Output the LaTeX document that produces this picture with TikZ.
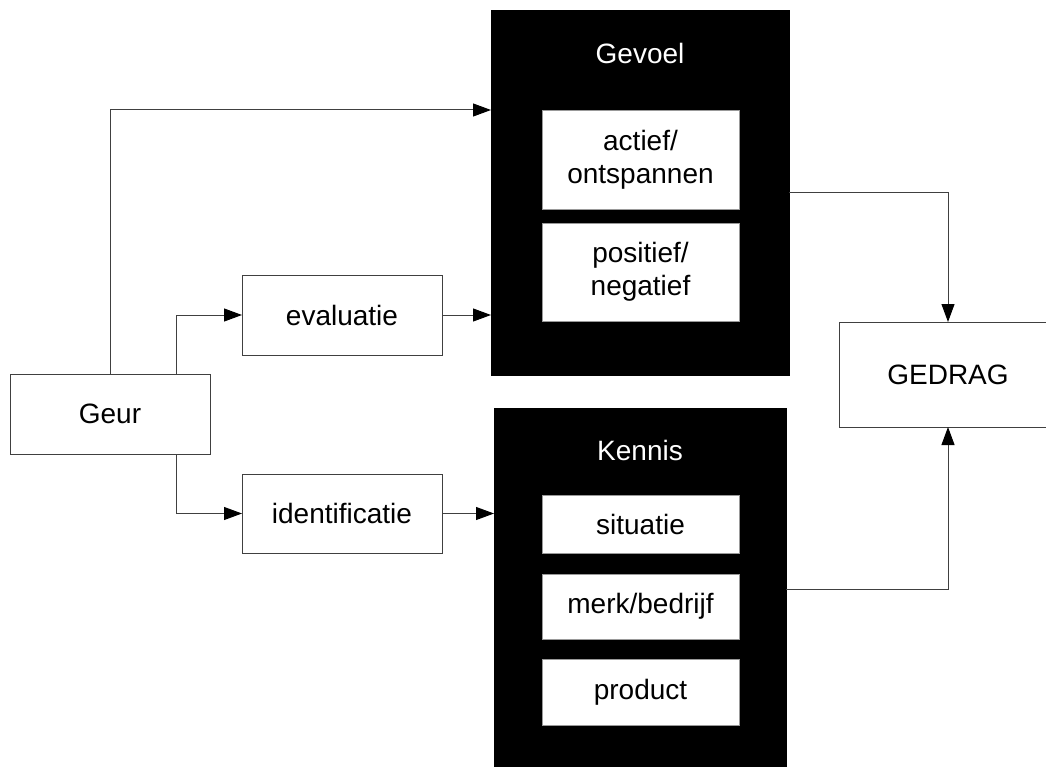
\documentclass[tikz,border=0pt]{standalone}
\usepackage{fontspec}
\setmainfont{Liberation Sans}
\usetikzlibrary{arrows.meta}
\begin{document}
\begin{tikzpicture}[x=1pt,y=-1pt,
  lbl/.style={font=\fontsize{28}{33}\selectfont, align=center},
  box/.style={lbl, draw=black!75, line width=1pt, fill=white, inner sep=0pt, outer sep=0pt},
  blackbox/.style={fill=black, draw=black, inner sep=0pt, outer sep=0pt},
  innerbox/.style={lbl, fill=white, draw=black!40, line width=0.8pt, inner sep=0pt, outer sep=0pt, minimum width=197pt},
  whitetext/.style={lbl, text=white},
  arr/.style={draw=black!75, line width=1pt, -{Triangle[length=18pt,width=13pt,color=black]}}
]
\useasboundingbox (0,0) rectangle (1046,767);
\fill[white] (0,0) rectangle (1046,767);

% black containers
\node[blackbox, minimum width=298pt, minimum height=365pt] (gevoel) at (640,192.5) {};
\node[blackbox, minimum width=292pt, minimum height=362pt] (kennis) at (640,589) {};

\node[whitetext] (gevoellbl) at (640,53) {Gevoel};
\node[whitetext] (kennislbl) at (640,450) {Kennis};

\node[innerbox, minimum height=99pt] (act) at (640.5,159.5) {actief/\\ontspannen};
\node[innerbox, minimum height=98pt] (pos) at (640.5,272) {positief/\\negatief};

\node[innerbox, minimum height=58pt] (sit) at (640.5,524) {situatie};
\node[innerbox, minimum height=65pt] (merk) at (640.5,606.5) {merk/bedrijf};
\node[innerbox, minimum height=66pt] (prod) at (640.5,692) {product};

% white boxes
\node[box, minimum width=200pt, minimum height=80pt] (geur) at (110,414) {Geur};
\node[box, minimum width=200pt, minimum height=80pt] (eval) at (342,315) {evaluatie};
\node[box, minimum width=200pt, minimum height=79pt] (ident) at (342,513.5) {identificatie};
\node[box, minimum width=218pt, minimum height=105pt] (gedrag) at (948,374.5) {GEDRAG};

% connectors
\draw[arr] (geur.north) |- (gevoel.west |- act.north);
\draw[arr] ([xshift=66pt]geur.north) |- (eval.west);
\draw[arr] ([xshift=66pt]geur.south) |- (ident.west);
\draw[arr] (eval.east) -- (eval.east -| gevoel.west);
\draw[arr] (ident.east) -- (ident.east -| kennis.west);
\draw[arr] (gevoel.east) -| (gedrag.north);
\draw[arr] (kennis.east) -| (gedrag.south);
\end{tikzpicture}
\end{document}
